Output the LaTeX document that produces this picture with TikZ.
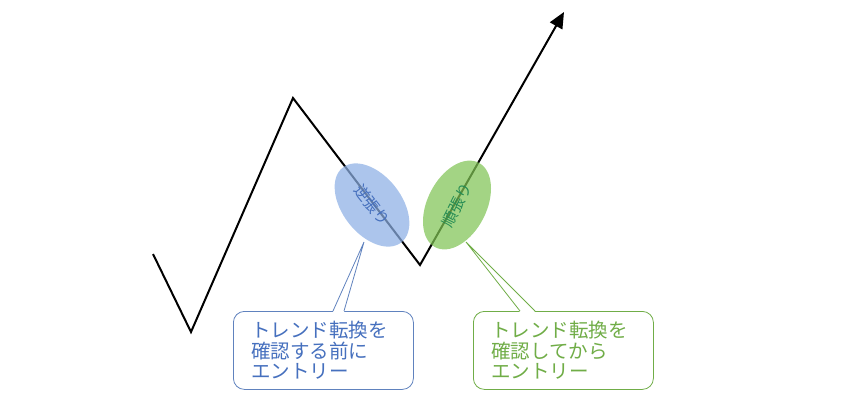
\documentclass[tikz,border=0pt]{standalone}
\usepackage{fontspec}
\newfontfamily\jpfont{Noto Sans CJK JP}
\usetikzlibrary{arrows.meta,shapes.geometric,calc}
\definecolor{gyakufill}{RGB}{140,175,228}
\definecolor{gyakutext}{RGB}{70,112,190}
\definecolor{gyakuline}{RGB}{96,130,190}
\definecolor{junfill}{RGB}{128,196,84}
\definecolor{juntext}{RGB}{38,140,84}
\definecolor{junline}{RGB}{112,173,71}

\begin{document}
\begin{tikzpicture}
  [x=1pt,y=-1pt,
   trend/.style={line width=2pt,line join=miter},
   zone/.style={ellipse,minimum width=95pt,minimum height=59pt,inner sep=0pt,
     fill opacity=.72,text opacity=1,font=\jpfont\fontsize{15.5}{15.5}\selectfont},
   memo/.style={draw,rounded corners=11pt,line width=.8pt,fill=white,
     minimum width=180pt,minimum height=78pt,anchor=north west,
     align=left,text width=144pt,inner xsep=18pt,inner ysep=0pt,
     font=\jpfont\fontsize{19.5}{20.5}\selectfont}]
  \useasboundingbox (0,0) rectangle (860,408);

  \coordinate (s) at (153,254);
  \coordinate (l) at (191,332);
  \coordinate (h) at (293,98);
  \coordinate (t) at (420,265);
  \coordinate (e) at (564,12);
  \draw[trend,-{Triangle[length=16pt,width=14pt]}] (s) -- (l) -- (h) -- (t) -- (e);

  \node[zone,fill=gyakufill,text=gyakutext,rotate=-52] (gyaku) at (372,205) {逆張り};
  \node[zone,fill=junfill,text=juntext,rotate=63] (jun) at (457,205) {順張り};

  \node[memo,draw=gyakuline,text=gyakutext] (before) at (233,311)
    {トレンド転換を\\確認する前に\\エントリー};
  \node[memo,draw=junline,text=junline] (after) at (473,311)
    {トレンド転換を\\確認してから\\エントリー};

  % callout pointers
  \coordinate (btip) at (364,242);
  \coordinate (atip) at (466,242);
  \fill[white] ($(before.north west)+(100,1)$) -- (btip) -- ($(before.north west)+(111,1)$) -- cycle;
  \draw[gyakuline,line width=.8pt] ($(before.north west)+(100,0)$) -- (btip) -- ($(before.north west)+(111,0)$);
  \fill[white] ($(after.north west)+(47,1)$) -- (atip) -- ($(after.north west)+(62,1)$) -- cycle;
  \draw[junline,line width=.8pt] ($(after.north west)+(47,0)$) -- (atip) -- ($(after.north west)+(62,0)$);
\end{tikzpicture}
\end{document}
